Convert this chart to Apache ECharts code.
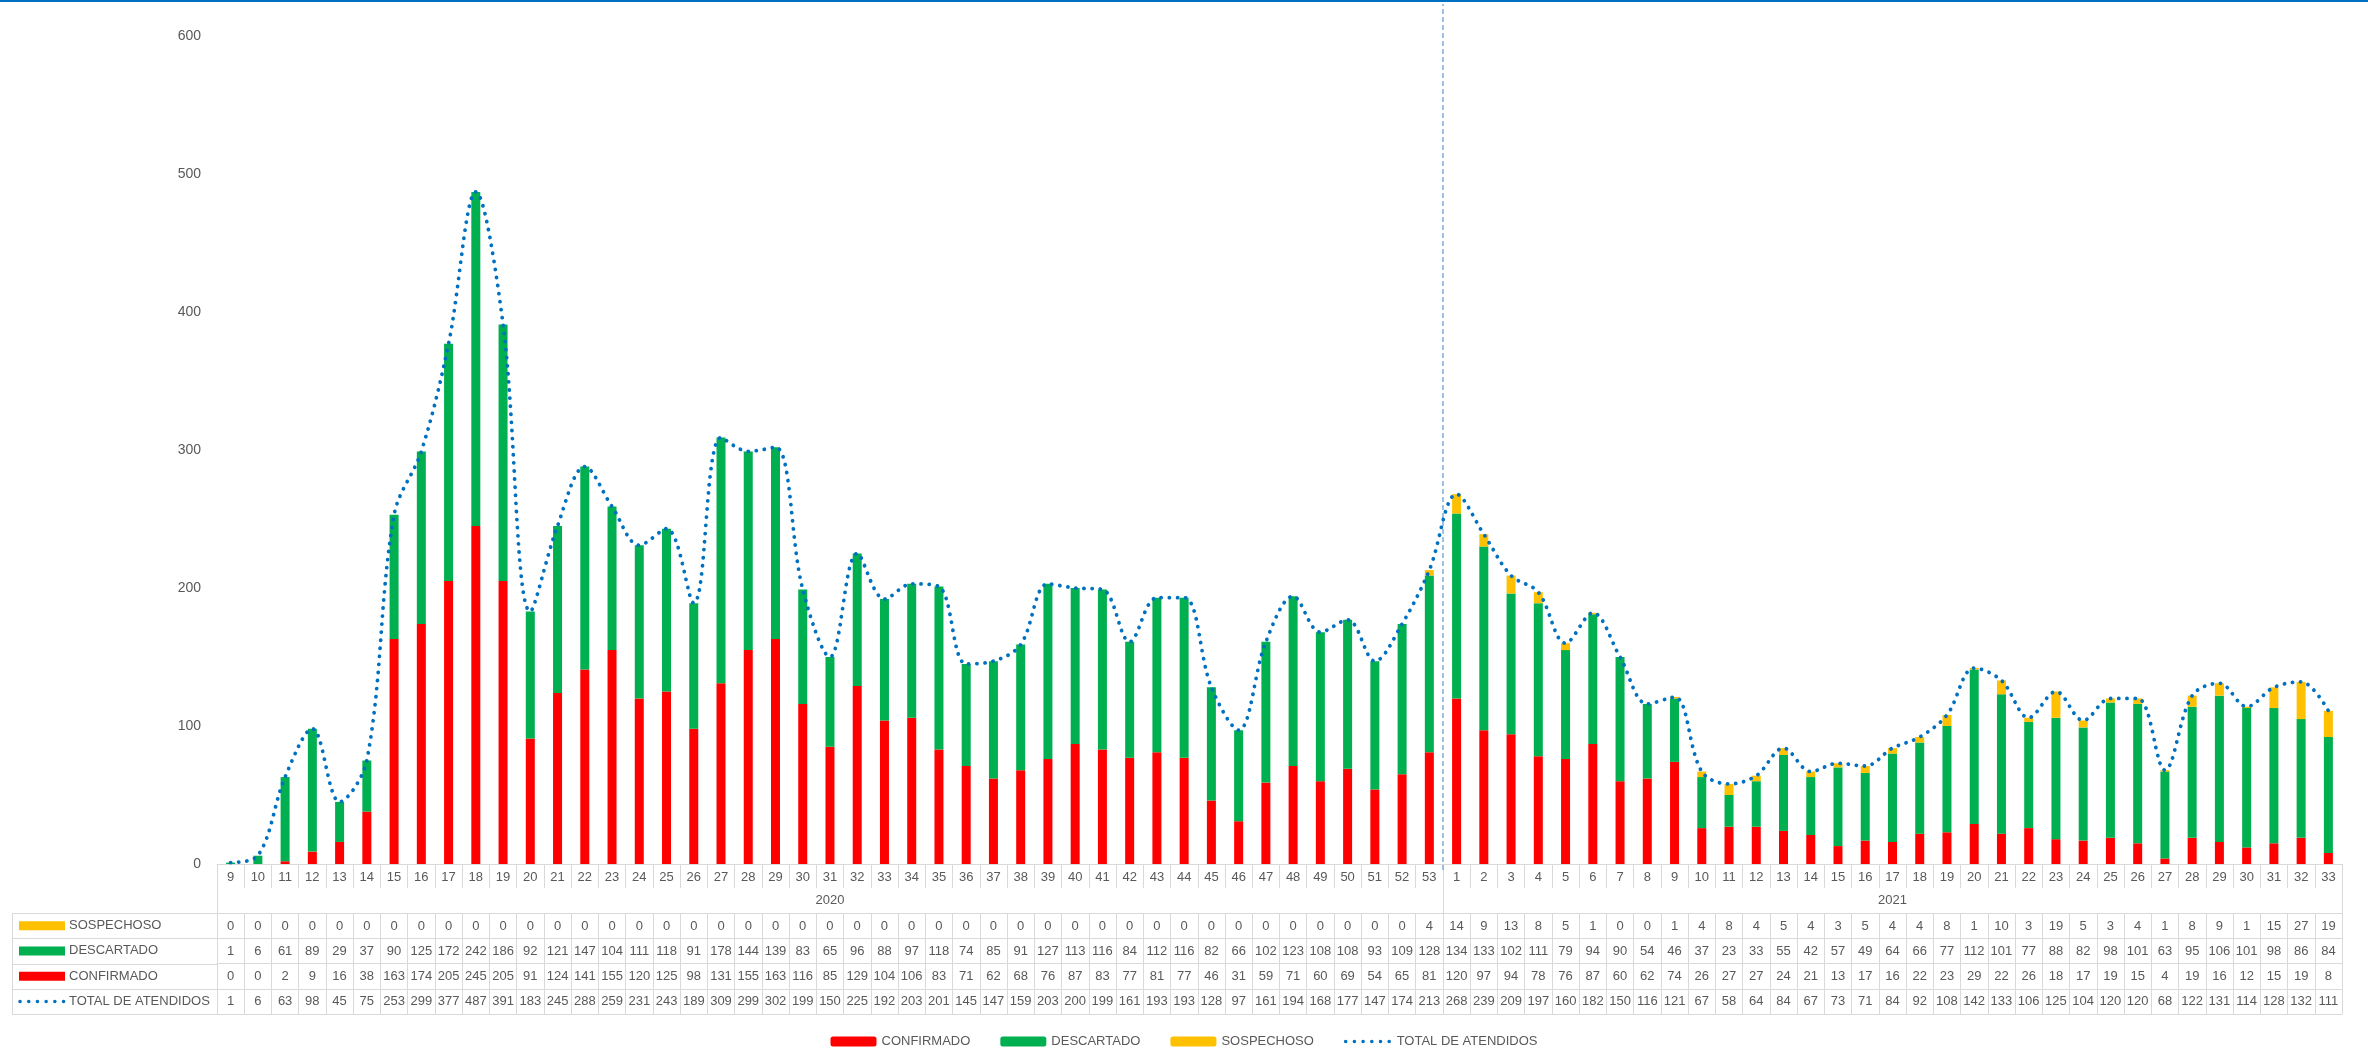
<!DOCTYPE html>
<html>
<head>
<meta charset="utf-8">
<script src="https://cdn.jsdelivr.net/npm/echarts@6/dist/echarts.min.js"></script>
<style>
html,body{margin:0;padding:0;background:#fff;}
#chart{width:2368px;height:1048px;}
</style>
</head>
<body>
<div id="chart"></div>
<script>
// ---------- DATA ----------
const years = ['2020', '2021'];
const weeks2020 = [9,10,11,12,13,14,15,16,17,18,19,20,21,22,23,24,25,26,27,28,29,30,31,32,33,34,35,36,37,38,39,40,41,42,43,44,45,46,47,48,49,50,51,52,53];
const weeks2021 = [1,2,3,4,5,6,7,8,9,10,11,12,13,14,15,16,17,18,19,20,21,22,23,24,25,26,27,28,29,30,31,32,33];

const sospechoso = [0,0,0,0,0,0,0,0,0,0,0,0,0,0,0,0,0,0,0,0,0,0,0,0,0,0,0,0,0,0,0,0,0,0,0,0,0,0,0,0,0,0,0,0,4,
  14,9,13,8,5,1,0,0,1,4,8,4,5,4,3,5,4,4,8,1,10,3,19,5,3,4,1,8,9,1,15,27,19];
const descartado = [1,6,61,89,29,37,90,125,172,242,186,92,121,147,104,111,118,91,178,144,139,83,65,96,88,97,118,74,85,91,127,113,116,84,112,116,82,66,102,123,108,108,93,109,128,
  134,133,102,111,79,94,90,54,46,37,23,33,55,42,57,49,64,66,77,112,101,77,88,82,98,101,63,95,106,101,98,86,84];
const confirmado = [0,0,2,9,16,38,163,174,205,245,205,91,124,141,155,120,125,98,131,155,163,116,85,129,104,106,83,71,62,68,76,87,83,77,81,77,46,31,59,71,60,69,54,65,81,
  120,97,94,78,76,87,60,62,74,26,27,27,24,21,13,17,16,22,23,29,22,26,18,17,19,15,4,19,16,12,15,19,8];
const totalAtendidos = [1,6,63,98,45,75,253,299,377,487,391,183,245,288,259,231,243,189,309,299,302,199,150,225,192,203,201,145,147,159,203,200,199,161,193,193,128,97,161,194,168,177,147,174,213,
  268,239,209,197,160,182,150,116,121,67,58,64,84,67,73,71,84,92,108,142,133,106,125,104,120,120,68,122,131,114,128,132,111];

const yTicks = [0, 100, 200, 300, 400, 500, 600];

// ---------- DERIVED ----------
const weekLabels = weeks2020.concat(weeks2021);
const categories = weeks2020.map(w => years[0] + '-' + w).concat(weeks2021.map(w => years[1] + '-' + w));
const n2020 = weeks2020.length;
const nAll = categories.length;

// ---------- LAYOUT ----------
const W = 2368, H = 1048;
const gridLeft = 217, gridRight = 26, gridTop = 36, axisY = 864;
const gridBottom = H - axisY;
const weekRowH = 24, yearRowH = 25, rowH = 25.25;
const tableTop = weekRowH + yearRowH;
const lineCol = '#D9D9D9';
const textCol = '#595959';
const font = 'Liberation Sans, Arial, sans-serif';
const C_RED = '#FF0000', C_GREEN = '#00B050', C_YELLOW = '#FFC000', C_BLUE = '#0070C0';
const DOTS = [0.1, 8];

const tableRows = [
  { name: 'SOSPECHOSO', data: sospechoso, color: C_YELLOW, kind: 'rect' },
  { name: 'DESCARTADO', data: descartado, color: C_GREEN, kind: 'rect' },
  { name: 'CONFIRMADO', data: confirmado, color: C_RED, kind: 'rect' },
  { name: 'TOTAL DE ATENDIDOS', data: totalAtendidos, color: C_BLUE, kind: 'dots' }
];

const xAxes = [];
xAxes.push({
  type: 'category', gridIndex: 0, position: 'bottom', data: categories, boundaryGap: true,
  axisLine: { show: true, lineStyle: { color: lineCol, width: 1 } },
  axisTick: { show: true, interval: 0, length: weekRowH, lineStyle: { color: lineCol } },
  axisLabel: { interval: 0, margin: 13.5, verticalAlign: 'middle', color: textCol, fontSize: 13, fontFamily: font,
    formatter: (v, i) => String(weekLabels[i]) }
});
xAxes.push({
  type: 'value', gridIndex: 0, position: 'bottom', offset: weekRowH, min: 0, max: nAll,
  splitLine: { show: false }, axisLine: { show: false },
  axisTick: { show: true, customValues: [0, n2020, nAll], length: yearRowH, lineStyle: { color: lineCol } },
  axisLabel: { show: true, customValues: [n2020 / 2, n2020 + (nAll - n2020) / 2], margin: 12.7, verticalAlign: 'middle',
    color: textCol, fontSize: 13, fontFamily: font, formatter: v => (v < n2020 ? years[0] : years[1]) }
});
tableRows.forEach((r, k) => {
  xAxes.push({
    type: 'category', gridIndex: 0, position: 'bottom', offset: tableTop + k * rowH, data: categories, boundaryGap: true,
    axisLine: { show: true, lineStyle: { color: lineCol, width: 1 } },
    axisTick: { show: true, interval: 0, length: rowH, lineStyle: { color: lineCol } },
    axisLabel: { interval: 0, margin: 13, verticalAlign: 'middle', color: textCol, fontSize: 13, fontFamily: font,
      formatter: (v, i) => String(r.data[i]) }
  });
});
xAxes.push({
  type: 'category', gridIndex: 0, position: 'bottom', offset: tableTop + tableRows.length * rowH, data: categories,
  axisLine: { show: true, lineStyle: { color: lineCol, width: 1 } },
  axisTick: { show: false }, axisLabel: { show: false }
});
const dividerAxisIndex = xAxes.length;
xAxes.push({ type: 'value', gridIndex: 1, min: 0, max: nAll, show: false });

// ---------- GRAPHIC (table left column + top border) ----------
const graphics = [];
graphics.push({ type: 'rect', shape: { x: 0, y: 0, width: W, height: 2 }, style: { fill: C_BLUE }, silent: true });
const tblLeft = 12;
const tTop = axisY + tableTop;
for (let k = 0; k <= tableRows.length; k++) {
  const y = Math.round(tTop + k * rowH) + 0.5;
  graphics.push({ type: 'line', shape: { x1: tblLeft, y1: y, x2: gridLeft, y2: y }, style: { stroke: lineCol, lineWidth: 1 }, silent: true });
}
graphics.push({ type: 'line', shape: { x1: tblLeft + 0.5, y1: tTop, x2: tblLeft + 0.5, y2: tTop + tableRows.length * rowH }, style: { stroke: lineCol, lineWidth: 1 }, silent: true });
tableRows.forEach((r, k) => {
  const cy = tTop + k * rowH + rowH / 2;
  if (r.kind === 'rect') {
    graphics.push({ type: 'rect', shape: { x: 19, y: cy - 4.5, width: 46, height: 9 }, style: { fill: r.color }, silent: true });
  } else {
    graphics.push({ type: 'line', shape: { x1: 20, y1: cy, x2: 64, y2: cy },
      style: { stroke: r.color, lineWidth: 3.5, lineDash: [0.1, 8.6], lineCap: 'round' }, silent: true });
  }
  graphics.push({ type: 'text', x: 69, y: cy, style: { text: r.name, fill: textCol, font: '13px ' + font, verticalAlign: 'middle', align: 'left' }, silent: true });
});

// ---------- OPTION ----------
const option = {
  animation: false,
  backgroundColor: '#ffffff',
  textStyle: { fontFamily: font },
  grid: [
    { left: gridLeft, right: gridRight, top: gridTop, bottom: gridBottom },
    { left: gridLeft, right: gridRight, top: 4, bottom: gridBottom - 6 }
  ],
  legend: {
    data: ['CONFIRMADO', 'DESCARTADO', 'SOSPECHOSO',
      { name: 'TOTAL DE ATENDIDOS', itemStyle: { opacity: 0 },
        lineStyle: { color: C_BLUE, width: 3.5, type: [0.1, 8.6], cap: 'round' } }],
    left: 'center', top: 1030, itemWidth: 46, itemHeight: 10, itemGap: 30,
    textStyle: { color: textCol, fontSize: 13, fontFamily: font }
  },
  xAxis: xAxes,
  yAxis: [
    { type: 'value', gridIndex: 0, min: yTicks[0], max: yTicks[yTicks.length - 1], interval: yTicks[1] - yTicks[0],
      splitLine: { show: false }, axisLine: { show: false }, axisTick: { show: false },
      axisLabel: { margin: 16, color: textCol, fontSize: 14, fontFamily: font } },
    { type: 'value', gridIndex: 1, min: 0, max: 1, show: false }
  ],
  graphic: graphics,
  series: [
    { name: 'CONFIRMADO', type: 'bar', stack: 'a', xAxisIndex: 0, yAxisIndex: 0, barWidth: 9, data: confirmado, itemStyle: { color: C_RED } },
    { name: 'DESCARTADO', type: 'bar', stack: 'a', xAxisIndex: 0, yAxisIndex: 0, barWidth: 9, data: descartado, itemStyle: { color: C_GREEN } },
    { name: 'SOSPECHOSO', type: 'bar', stack: 'a', xAxisIndex: 0, yAxisIndex: 0, barWidth: 9, data: sospechoso, itemStyle: { color: C_YELLOW } },
    { name: 'divider', type: 'line', xAxisIndex: dividerAxisIndex, yAxisIndex: 1, data: [], silent: true,
      markLine: { silent: true, symbol: 'none', label: { show: false },
        lineStyle: { color: '#7EADE0', type: [5, 3], width: 1.5 },
        data: [{ xAxis: n2020 }] } },
    { name: 'TOTAL DE ATENDIDOS', type: 'line', xAxisIndex: 0, yAxisIndex: 0, data: totalAtendidos, z: 5,
      symbol: 'none', smooth: 0.35, itemStyle: { color: C_BLUE },
      lineStyle: { color: C_BLUE, width: 3.8, type: DOTS, cap: 'round' } }
  ]
};

const chart = echarts.init(document.getElementById('chart'), null, { renderer: 'canvas', width: W, height: H });
chart.setOption(option);
</script>
</body>
</html>
